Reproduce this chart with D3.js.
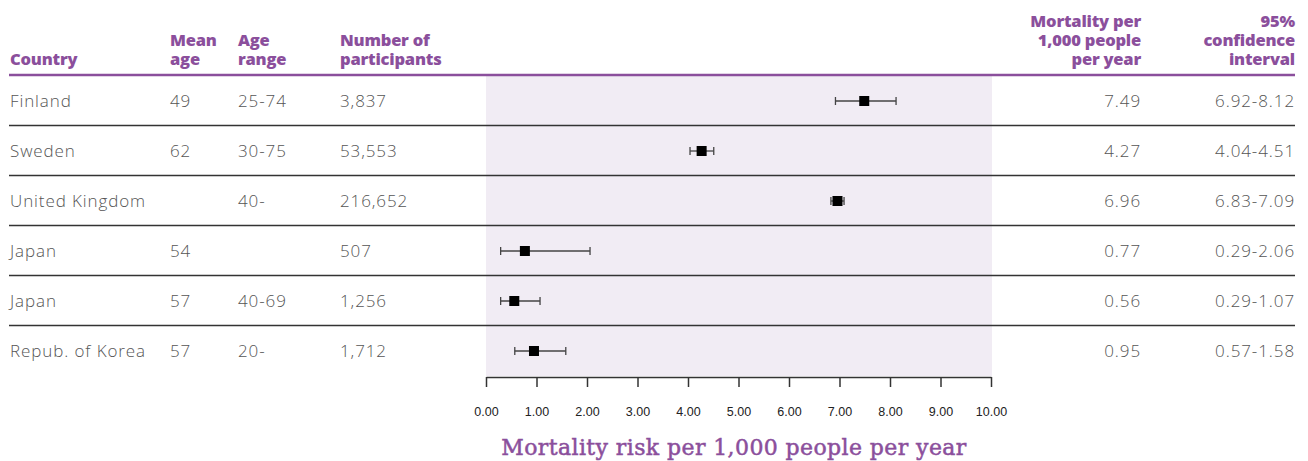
<!DOCTYPE html>
<html><head><meta charset="utf-8">
<script src="https://cdn.jsdelivr.net/npm/d3@7"></script>
<style>body{margin:0;background:#fff}</style>
</head><body>
<svg id="c" width="1308" height="461"></svg>
<script>
const countries = ["Finland","Sweden","United Kingdom","Japan","Japan","Repub. of Korea"];
const meanAge = ["49","62","","54","57","57"];
const ageRange = ["25-74","30-75","40-","","40-69","20-"];
const participants = ["3,837","53,553","216,652","507","1,256","1,712"];
const mortality = [7.49,4.27,6.96,0.77,0.56,0.95];
const ciLow = [6.92,4.04,6.83,0.29,0.29,0.57];
const ciHigh = [8.12,4.51,7.09,2.06,1.07,1.58];
const tickValues = [0,1,2,3,4,5,6,7,8,9,10];
const axisTitle = "Mortality risk per 1,000 people per year";

const svg = d3.select("#c");
const purple = "#8b4f9c";
const textCol = "#555";
const headFont = "'Open Sans', sans-serif";
const bodyFont = "'Open Sans', sans-serif";

const x = d3.scaleLinear().domain([0,10]).range([486,991]);
const y = d3.scaleBand().domain(d3.range(countries.length)).range([76,376]);

// shaded region
svg.append("rect").attr("x",x(0)).attr("y",76).attr("width",x(10)-x(0)+1).attr("height",300).attr("fill","#f1ecf4");

// headers (each a single multi-line text)
const headers = [
  {lines:["Country"], x:10, anchor:"start"},
  {lines:["Mean","age"], x:170, anchor:"start"},
  {lines:["Age","range"], x:238, anchor:"start"},
  {lines:["Number of","participants"], x:340, anchor:"start"},
  {lines:["Mortality per","1,000 people","per year"], x:1141, anchor:"end"},
  {lines:["95%","confidence","interval"], x:1295, anchor:"end"}
];
headers.forEach(h=>{
  const n=h.lines.length;
  const t = svg.append("text").attr("text-anchor",h.anchor).attr("fill",purple)
      .attr("font-family",headFont).attr("font-weight",800).attr("font-size",16.5)
      .attr("letter-spacing","-0.2");
  h.lines.forEach((l,i)=>{
    t.append("tspan").attr("x",h.x).attr("y",65-(n-1-i)*19).text(l);
  });
});
svg.append("line").attr("x1",9).attr("x2",1295).attr("y1",75).attr("y2",75).attr("stroke",purple).attr("stroke-width",2.5);

// rows
countries.forEach((c,i)=>{
  const cy = y(i)+y.bandwidth()/2;
  const cols = [[c,10,"start"],[meanAge[i],170,"start"],[ageRange[i],238,"start"],[participants[i],340,"start"],
    [mortality[i].toFixed(2),1141,"end"],[ciLow[i].toFixed(2)+"-"+ciHigh[i].toFixed(2),1295,"end"]];
  cols.forEach(([t,xx,a])=>{
    if(!t) return;
    svg.append("text").attr("x",xx).attr("y",cy+6).attr("text-anchor",a)
      .attr("fill",textCol).attr("font-family",bodyFont).attr("font-weight",300).attr("font-size",17)
      .attr("letter-spacing","0.9")
      .text(t);
  });
  if(i<countries.length-1){
    svg.append("line").attr("x1",9).attr("x2",1295).attr("y1",y(i+1)-0.5).attr("y2",y(i+1)-0.5)
      .attr("stroke","#333").attr("stroke-width",1.5);
  }
  // error bars
  const g = svg.append("g");
  g.append("line").attr("x1",x(ciLow[i])).attr("x2",x(ciHigh[i])).attr("y1",cy).attr("y2",cy).attr("stroke","#444").attr("stroke-width",1.3);
  [ciLow[i],ciHigh[i]].forEach(v=>g.append("line").attr("x1",x(v)).attr("x2",x(v)).attr("y1",cy-4).attr("y2",cy+4).attr("stroke","#444").attr("stroke-width",1.3));
  g.append("rect").attr("x",x(mortality[i])-5).attr("y",cy-5).attr("width",10).attr("height",10).attr("fill","#000");
});

// axis
const ax = svg.append("g").attr("transform","translate(0,377)")
  .call(d3.axisBottom(x).tickValues(tickValues).tickSize(10).tickSizeOuter(0).tickPadding(20).tickFormat(d=>d.toFixed(2)));
ax.select(".domain").attr("stroke","#333").attr("stroke-width",1.5);
ax.selectAll(".tick line").attr("stroke","#333").attr("stroke-width",1.5);
ax.selectAll(".tick text").attr("fill","#222").attr("font-family","'Liberation Sans', Arial, sans-serif").attr("font-size",12.5);

svg.append("text").attr("x",734).attr("y",455).attr("text-anchor","middle").attr("fill",purple)
  .attr("stroke",purple).attr("stroke-width",0.5)
  .attr("font-family","'DejaVu Serif', serif").attr("font-size",22).attr("font-weight",400)
  .attr("letter-spacing","0.4")
  .text(axisTitle);
</script>
</body></html>
